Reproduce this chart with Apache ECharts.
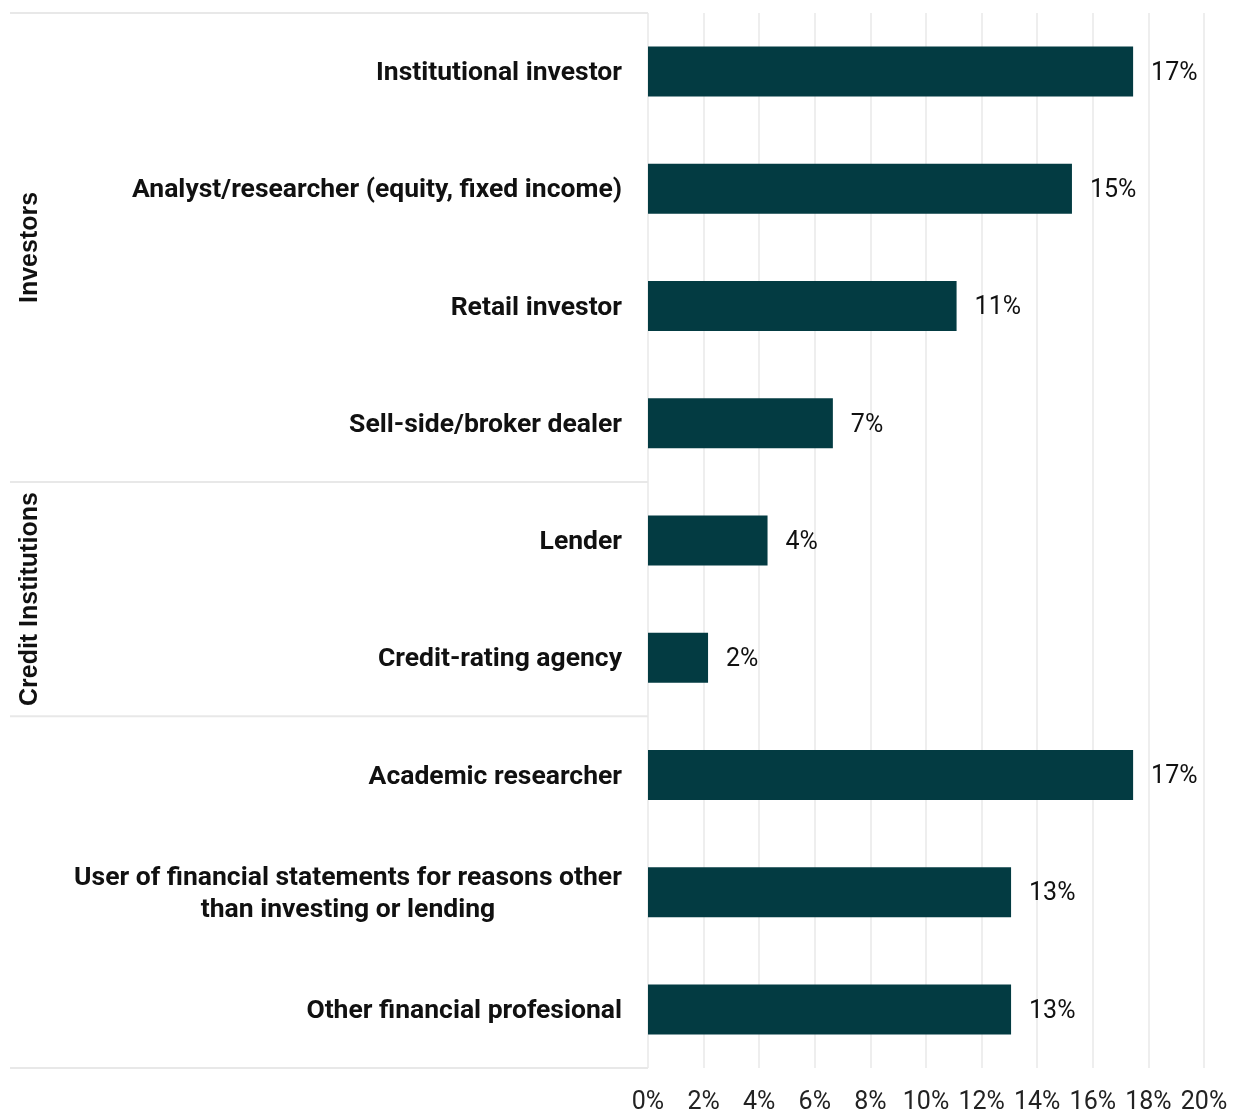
<!DOCTYPE html>
<html>
<head>
<meta charset="utf-8">
<script src="https://cdn.jsdelivr.net/npm/echarts@6/dist/echarts.min.js"></script>
<style>
  html, body { margin: 0; padding: 0; background: #fff; }
  #chart { width: 1233px; height: 1113px; }
</style>
</head>
<body>
<div id="chart"></div>
<script>
// Respondent roles, top to bottom
const categories = [
  'Institutional investor',
  'Analyst/researcher (equity, fixed income)',
  'Retail investor',
  'Sell-side/broker dealer',
  'Lender',
  'Credit-rating agency',
  'Academic researcher',
  'User of financial statements for reasons other\nthan investing or lending',
  'Other financial profesional'
];
// Share of respondents, percent
const shares = [17.45, 15.25, 11.1, 6.65, 4.3, 2.16, 17.45, 13.06, 13.06];
// Role groups: label and number of categories in each
const groupNames = ['Investors', 'Credit Institutions', ''];
const groupSizes = [4, 2, 3];
// X axis ticks (percent)
const xTicks = [0, 2, 4, 6, 8, 10, 12, 14, 16, 18, 20];

const BAR = '#033b42';
const RULE = '#e8e8e8';
const CAT_SIZE = 26.5;

// Width of the longest line of a label, so multi-line labels can be centred as a block
const measureCtx = document.createElement('canvas').getContext('2d');
measureCtx.font = 'bold ' + CAT_SIZE + 'px Roboto';
function blockWidth(text) {
  return Math.ceil(Math.max(...text.split('\n').map(s => measureCtx.measureText(s).width)));
}

const chart = echarts.init(document.getElementById('chart'));

const option = {
  animation: false,
  grid: { left: 648, right: 29, top: 13, bottom: 45, outerBoundsMode: 'none', containLabel: false },
  xAxis: {
    type: 'value',
    min: xTicks[0],
    max: xTicks[xTicks.length - 1],
    interval: xTicks[1] - xTicks[0],
    axisLine: { show: false },
    axisTick: { show: false },
    splitLine: { show: true, lineStyle: { color: RULE, width: 1.5 } },
    axisLabel: {
      formatter: '{value}%',
      fontFamily: 'Roboto',
      fontSize: 25,
      color: '#222',
      margin: 22
    }
  },
  yAxis: {
    type: 'category',
    inverse: true,
    data: categories,
    axisLine: { show: false },
    axisTick: { show: false },
    axisLabel: {
      fontFamily: 'Roboto',
      fontWeight: 'bold',
      fontSize: CAT_SIZE,
      color: '#111',
      margin: 26,
      lineHeight: 32,
      align: 'right',
      padding: [4, 0, 0, 0],
      formatter: v => {
        if (v.indexOf('\n') < 0) return v;
        return v.split('\n').map(s => '{c|' + s + '}').join('\n');
      },
      rich: {
        c: {
          fontFamily: 'Roboto',
          fontWeight: 'bold',
          fontSize: CAT_SIZE,
          color: '#111',
          lineHeight: 32,
          align: 'center',
          width: blockWidth(categories[7])
        }
      }
    }
  },
  series: [{
    type: 'bar',
    data: shares,
    barWidth: 50,
    itemStyle: { color: BAR },
    label: {
      show: true,
      position: 'right',
      distance: 18,
      offset: [0, 2],
      formatter: p => Math.round(p.value) + '%',
      fontFamily: 'Roboto',
      fontSize: 25,
      color: '#111'
    }
  }]
};

chart.setOption(option);

// Group separators and rotated group titles, placed from the category scale
const catY = i => chart.convertToPixel({ yAxisIndex: 0 }, categories[i]);
const step = catY(1) - catY(0);
function bandEdge(i) {
  // pixel y of the boundary above category i
  if (i >= categories.length) return catY(categories.length - 1) + step / 2;
  return catY(i) - step / 2;
}

const x0 = chart.convertToPixel({ xAxisIndex: 0 }, 0);
const graphics = [];
let start = 0;
const edges = [bandEdge(0)];
groupSizes.forEach(n => { start += n; edges.push(bandEdge(start)); });

edges.forEach(y => {
  graphics.push({
    type: 'line',
    shape: { x1: 10, y1: y, x2: x0, y2: y },
    style: { stroke: RULE, lineWidth: 2 },
    silent: true
  });
});

groupNames.forEach((name, g) => {
  if (!name) return;
  const mid = (edges[g] + edges[g + 1]) / 2;
  graphics.push({
    type: 'text',
    x: 30,
    y: mid,
    rotation: Math.PI / 2,
    style: {
      text: name,
      fontFamily: 'Liberation Sans',
      fontWeight: 'bold',
      fontSize: 25,
      fill: '#111',
      align: 'center',
      verticalAlign: 'middle'
    },
    silent: true
  });
});

chart.setOption({ graphic: graphics });
</script>
</body>
</html>
